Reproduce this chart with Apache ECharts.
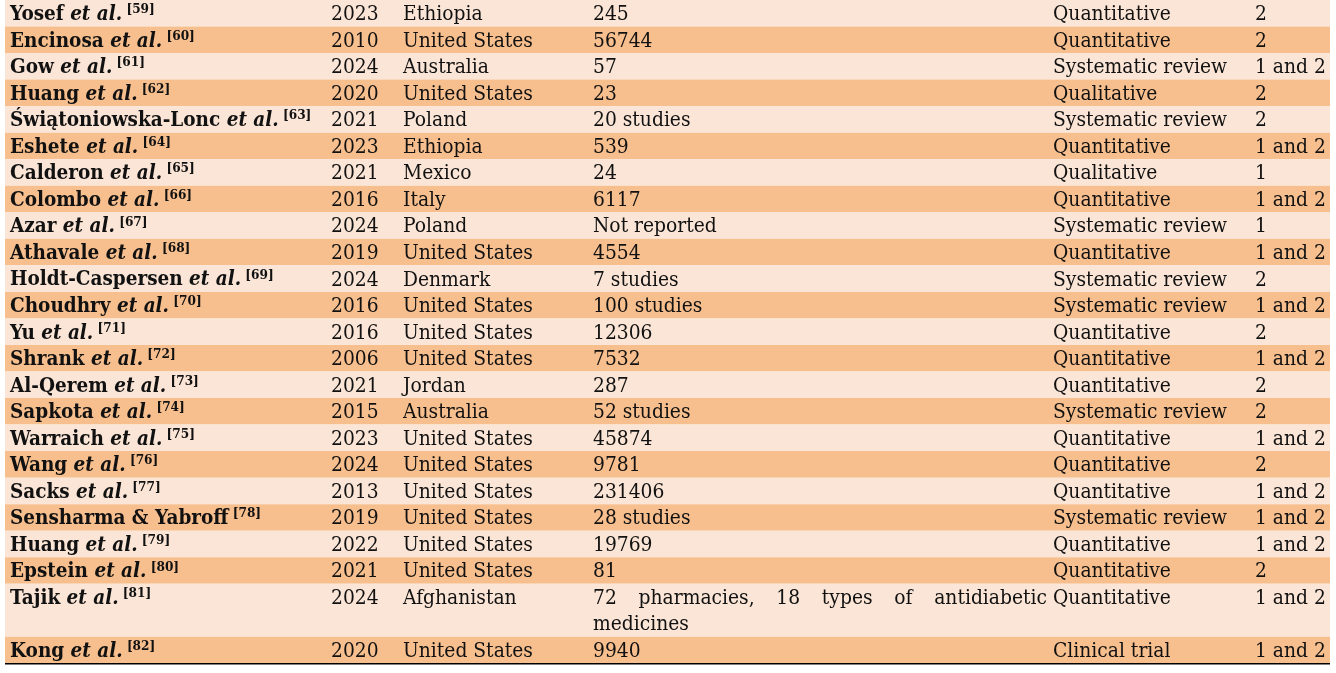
<!DOCTYPE html>
<html><head><meta charset="utf-8">
<script src="https://cdn.jsdelivr.net/npm/echarts@6/dist/echarts.min.js"></script>
<style>html,body{margin:0;padding:0;background:#fff}#c{width:1336px;height:673px}</style>
</head><body><div id="c"></div>
<script>
// ---------- data ----------
const authors = ['Yosef et al.','Encinosa et al.','Gow et al.','Huang et al.','Świątoniowska-Lonc et al.','Eshete et al.','Calderon et al.','Colombo et al.','Azar et al.','Athavale et al.','Holdt-Caspersen et al.','Choudhry et al.','Yu et al.','Shrank et al.','Al-Qerem et al.','Sapkota et al.','Warraich et al.','Wang et al.','Sacks et al.','Sensharma & Yabroff','Huang et al.','Epstein et al.','Tajik et al.','Kong et al.'];
const refs = [59,60,61,62,63,64,65,66,67,68,69,70,71,72,73,74,75,76,77,78,79,80,81,82];
const years = [2023,2010,2024,2020,2021,2023,2021,2016,2024,2019,2024,2016,2016,2006,2021,2015,2023,2024,2013,2019,2022,2021,2024,2020];
const countries = ['Ethiopia','United States','Australia','United States','Poland','Ethiopia','Mexico','Italy','Poland','United States','Denmark','United States','United States','United States','Jordan','Australia','United States','United States','United States','United States','United States','United States','Afghanistan','United States'];
const samples = ['245','56744','57','23','20 studies','539','24','6117','Not reported','4554','7 studies','100 studies','12306','7532','287','52 studies','45874','9781','231406','28 studies','19769','81','72 pharmacies, 18 types of antidiabetic medicines','9940'];
const designs = ['Quantitative','Quantitative','Systematic review','Qualitative','Systematic review','Quantitative','Qualitative','Quantitative','Systematic review','Quantitative','Systematic review','Systematic review','Quantitative','Quantitative','Quantitative','Systematic review','Quantitative','Quantitative','Quantitative','Systematic review','Quantitative','Quantitative','Quantitative','Clinical trial'];
const objectives = ['2','2','1 and 2','2','2','1 and 2','1','1 and 2','1','1 and 2','2','1 and 2','2','1 and 2','2','2','1 and 2','2','1 and 2','1 and 2','1 and 2','2','1 and 2','1 and 2'];

// ---------- layout / style ----------
const FONT = '"DejaVu Serif Condensed", "DejaVu Serif", serif';
const FS = 20.8;
const AFS = 20.5;
const ROW_H = 26.6;
const TOP = -1.6;
const LEFT = 5, TABLE_W = 1325;
const COL_L = [10, 331, 403, 593, 1053, 1255];
const COL_R = [325, 400, 590, 1047, 1252, 1336];
const LIGHT = '#FBE5D6', DARK = '#F8BF8E', INK = '#111';

const ctx = document.createElement('canvas').getContext('2d');
ctx.font = FS + 'px ' + FONT;
const measure = s => ctx.measureText(s).width;

function wrap(text, width) {
  const words = String(text).split(' ');
  const lines = [];
  let cur = [];
  words.forEach(w => {
    const trial = cur.concat([w]).join(' ');
    if (cur.length && measure(trial) > width) { lines.push(cur); cur = [w]; }
    else cur.push(w);
  });
  if (cur.length) lines.push(cur);
  return lines;
}

const textCols = [years, countries, samples, designs, objectives];
const n = authors.length;
const wrapped = textCols.map((col, c) => col.map(v => wrap(v, COL_R[c + 1] - COL_L[c + 1])));
const rowLines = authors.map((_, i) => Math.max(1, ...wrapped.map(col => col[i].length)));
const rows = [];
let acc = 0;
rowLines.forEach((l, i) => { rows.push([acc, acc + l, i]); acc += l; });
const total = acc;

function authorRich(a, r) {
  const k = a.indexOf(' et al.');
  if (k >= 0) return '{n|' + a.slice(0, k) + ' }{i|et al.}{s| [' + r + ']}';
  return '{n|' + a + '}{s| [' + r + ']}';
}

const chart = echarts.init(document.getElementById('c'), null, {renderer: 'canvas'});
chart.setOption({
  animation: false,
  grid: {left: LEFT, width: TABLE_W, top: TOP, height: total * ROW_H},
  xAxis: {type: 'value', min: 0, max: TABLE_W, show: false},
  yAxis: {type: 'value', min: 0, max: total, inverse: true, show: false},
  series: [{
    type: 'custom',
    coordinateSystem: 'cartesian2d',
    data: rows,
    encode: {y: [0, 1]},
    renderItem: function (params, api) {
      const y0 = api.value(0), y1 = api.value(1), i = api.value(2);
      const p0 = api.coord([0, y0]);
      const p1 = api.coord([TABLE_W, y1]);
      const unit = (p1[1] - p0[1]) / (y1 - y0);
      const xOf = px => api.coord([px - LEFT, y0])[0];
      const children = [{
        type: 'rect',
        shape: {x: p0[0], y: p0[1], width: p1[0] - p0[0], height: p1[1] - p0[1]},
        style: {fill: i % 2 === 0 ? LIGHT : DARK}
      }];
      const lineY = k => p0[1] + unit * (k + 0.5) + 1.5;
      children.push({
        type: 'text',
        x: xOf(COL_L[0]), y: lineY(0),
        style: {
          text: authorRich(authors[i], refs[i]),
          verticalAlign: 'middle', align: 'left',
          rich: {
            n: {fontFamily: FONT, fontSize: AFS, fontWeight: 'bold', fill: INK, lineHeight: 24},
            i: {fontFamily: FONT, fontSize: AFS, fontWeight: 'bold', fontStyle: 'italic', fill: INK, lineHeight: 24},
            s: {fontFamily: FONT, fontSize: 13.5, fontWeight: 'bold', fill: INK, lineHeight: 14, verticalAlign: 'top'}
          }
        }
      });
      wrapped.forEach((col, c) => {
        const lines = col[i];
        const left = xOf(COL_L[c + 1]);
        const width = xOf(COL_R[c + 1]) - left;
        lines.forEach((words, k) => {
          const last = k === lines.length - 1;
          if (last || words.length < 2) {
            children.push({type: 'text', x: left, y: lineY(k),
              style: {text: words.join(' '), fontFamily: FONT, fontSize: FS, fill: INK, verticalAlign: 'middle', align: 'left'}});
          } else {
            const ws = words.map(measure);
            const gap = (width - ws.reduce((a, b) => a + b, 0)) / (words.length - 1);
            let x = left;
            words.forEach((w, j) => {
              children.push({type: 'text', x: x, y: lineY(k),
                style: {text: w, fontFamily: FONT, fontSize: FS, fill: INK, verticalAlign: 'middle', align: 'left'}});
              x += ws[j] + gap;
            });
          }
        });
      });
      if (i === n - 1) {
        children.push({type: 'rect', shape: {x: p0[0], y: p1[1] - 0.5, width: p1[0] - p0[0], height: 1.5}, style: {fill: '#000'}});
      }
      return {type: 'group', children: children};
    }
  }]
});
</script>
</body></html>
